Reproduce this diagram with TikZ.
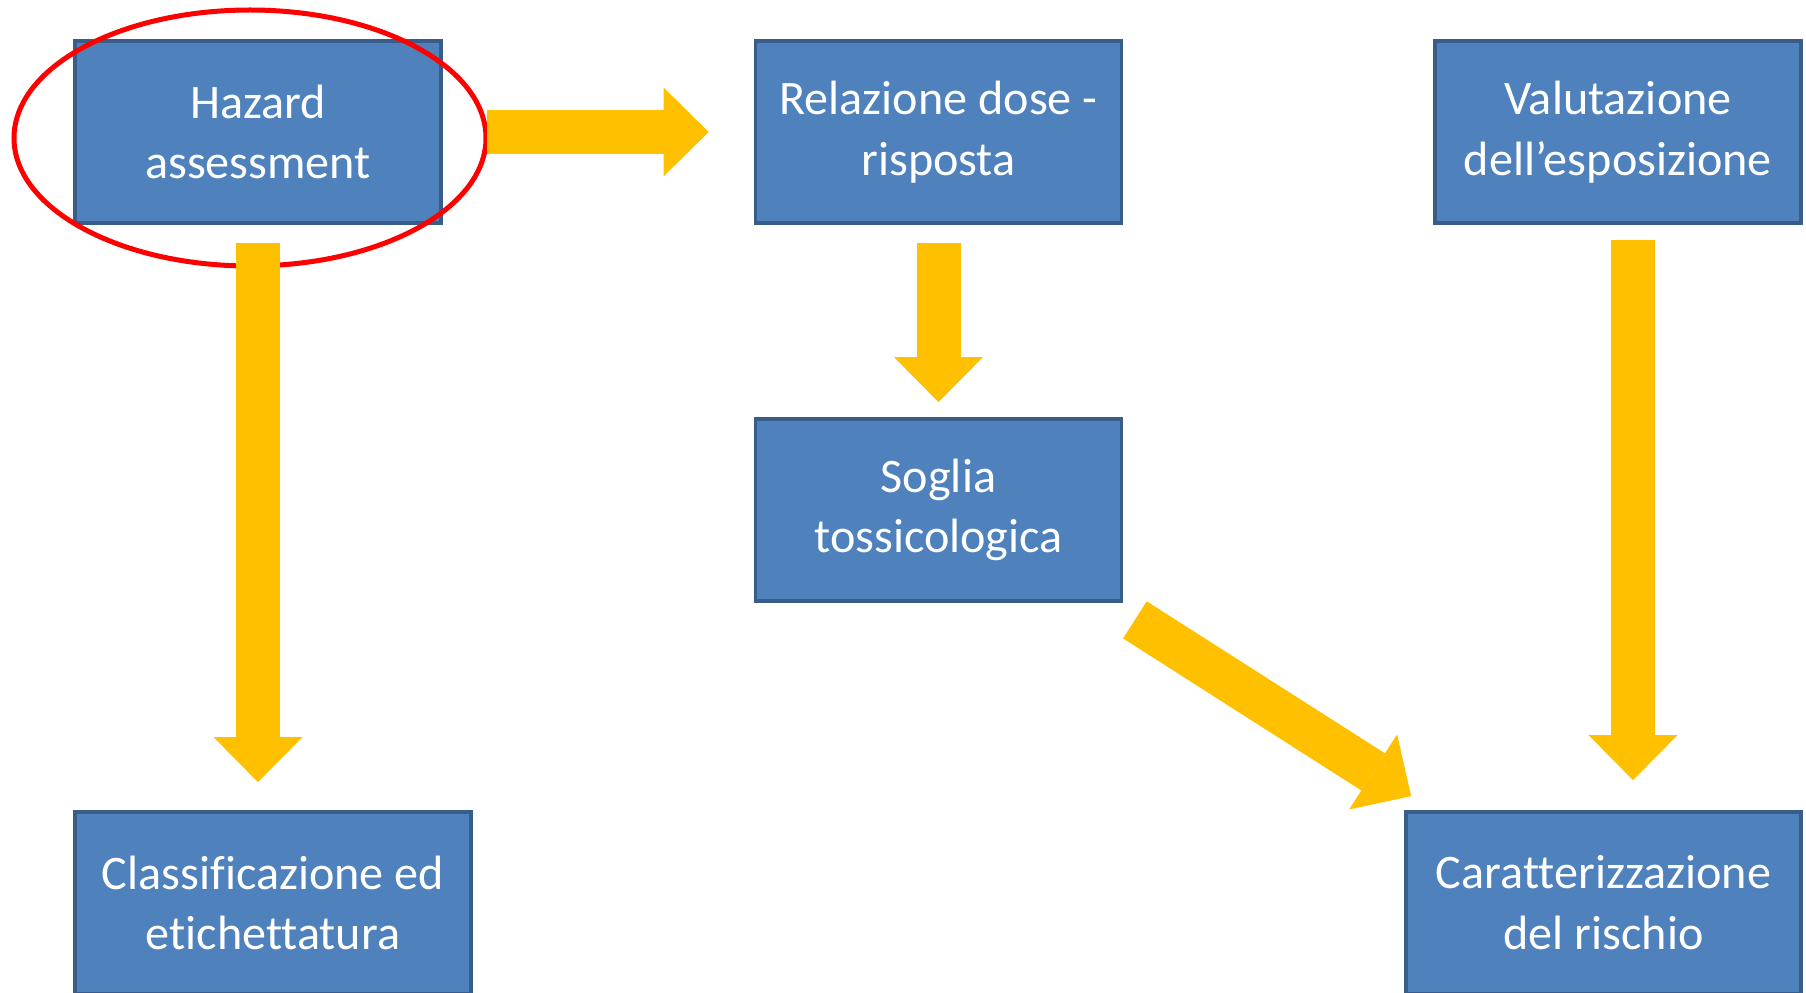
\documentclass[tikz,border=0pt]{standalone}
\usepackage{fontspec}
\setmainfont{Carlito}[Ligatures=NoCommon]
\usetikzlibrary{arrows.meta,calc}

\definecolor{boxfill}{HTML}{4F81BD}
\definecolor{boxline}{HTML}{385D8A}
\definecolor{arrowyellow}{HTML}{FFC000}

\begin{document}
\begin{tikzpicture}[x=0.2mm,y=-0.2mm,
  box/.style={draw=boxline,fill=boxfill,line width=0.75mm,text=white,align=center,
    minimum width=73.2mm,minimum height=36.4mm,inner sep=0pt,
    font=\fontsize{27.4}{34.6}\selectfont},
  fat/.style={draw=arrowyellow,line width=8.8mm,
    -{Triangle[width=17.8mm,length=9mm,line width=0pt]}}]
\useasboundingbox (0,0) rectangle (1806,993);

\node[box] (haz) at (258,132)   {Hazard\\assessment};
\node[box] (rel) at (938.5,132) {Relazione dose -\\risposta};
\node[box] (val) at (1618,132)  {Valutazione\\dell’esposizione};
\node[box] (sog) at (938.5,510) {Soglia\\tossicologica};
\node[box,minimum width=79.2mm] (cls) at (273,903)  {Classificazione ed\\etichettatura};
\node[box,minimum width=79mm]   (car) at (1603.5,903) {Caratterizzazione\\del rischio};

% red ring round the first step
\draw[red,line width=1mm] ($(haz.center)+(-8,6)$) ellipse [x radius=236,y radius=128];

\draw[fat] ($(haz.east)+(44,0)$)  -- ($(rel.west)+(-45,0)$);
\draw[fat] ($(haz.south)+(0,18)$) -- ($(haz.south |- cls.north)+(0,-28)$);
\draw[fat] ($(rel.south)+(0,18)$) -- ($(sog.north)+(0,-15)$);
\draw[fat] ($(val.south)+(15,15)$) -- ($(val.south |- car.north)+(15,-30)$);

\draw[fat] ($(sog.south east)+(11.5,17)$) -- ($(car.north west)+(7,-14)$);
\end{tikzpicture}
\end{document}
